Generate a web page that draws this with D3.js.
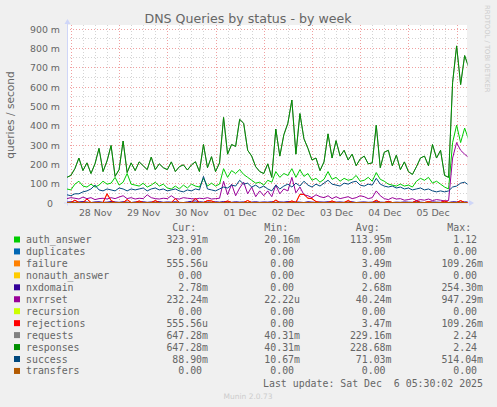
<!DOCTYPE html>
<html lang="en">
<head>
  <meta charset="UTF-8">
  <title>DNS Queries by status - by week</title>
  <style>
    body { margin: 0; background: #f0f0f0; }
    svg { display: block; font-family: 'DejaVu Sans', sans-serif; }
  </style>
</head>
<body>
  <svg id="mainsvg" width="497" height="407"></svg>
  <script src="https://cdn.jsdelivr.net/npm/d3@7/dist/d3.min.js"></script>
  <script>
    // samples every 2 hours, first one at 27 Nov 22:00 UTC
    const startTime = Date.UTC(2025, 10, 27, 22, 0)
    const stepHours = 2

    // values in milli-queries per second
    const auth_answer = [
      70, 65, 95, 110, 85, 80, 95, 80, 90, 110,
      95, 100, 130, 90, 105, 150, 95, 90, 85, 100,
      80, 90, 105, 85, 95, 75, 70, 85, 70, 90,
      75, 95, 85, 80, 125, 85, 100, 85, 95, 175,
      130, 165, 150, 170, 145, 130, 115, 100, 105, 90,
      115, 105, 160, 130, 150, 140, 175, 130, 170, 135,
      150, 115, 125, 105, 120, 160, 120, 130, 110, 125,
      115, 120, 140, 110, 115, 130, 110, 155, 120, 110,
      95, 90, 85, 95, 85, 90, 80, 110, 125, 115,
      130, 100, 110, 95, 80, 70, 310, 400, 310, 385,
      325
    ]
    const nxdomain = [
      2, 4, 1, 3, 5, 2, 0, 3, 4, 1, 2, 5, 3, 1, 4, 2, 0, 3, 2, 4, 1, 3, 2, 5, 1,
      3, 2, 4, 1, 0, 3, 6, 8, 4, 2, 3, 1, 4, 2, 5, 3, 1, 4, 2, 3, 0, 2, 4, 1, 3,
      2, 4, 1, 3, 2, 5, 1, 3, 2, 0, 4, 2, 1, 3, 2, 4, 1, 2, 3, 1, 2, 4, 0, 2, 3,
      1, 2, 4, 2, 1, 3, 0, 2, 1, 3, 2, 1, 4, 2, 0, 1, 3, 2, 1, 2, 0, 4, 3, 2, 3, 3
    ]
    const nxrrset = [
      20, 25, 22, 18, 28, 20, 25, 15, 20, 22, 18, 25, 20, 28, 35, 20, 25, 18, 22, 20, 40, 25, 20, 18, 22,
      20, 35, 20, 18, 25, 22, 20, 18, 22, 20, 25, 18, 20, 22, 110, 40, 95, 35, 75, 105, 45, 80, 30, 60, 35,
      60, 30, 90, 45, 70, 60, 130, 50, 80, 40, 35, 25, 40, 30, 25, 35, 20, 30, 20, 25, 30, 20, 25, 35, 30,
      20, 25, 60, 35, 20, 15, 25, 18, 20, 12, 15, 20, 10, 15, 12, 18, 10, 15, 12, 8, 10, 230, 310, 270, 250, 232
    ]
    const rejections = [
      0, 0, 12, 0, 0, 18, 0, 0, 0, 0,
      45, 10, 0, 0, 0, 15, 0, 0, 8, 0,
      0, 0, 10, 0, 0, 0, 0, 20, 0, 0,
      0, 0, 22, 0, 0, 10, 8, 0, 0, 0,
      8, 0, 0, 0, 0, 10, 0, 0, 0, 0,
      0, 0, 12, 0, 0, 0, 8, 0, 42, 42,
      22, 20, 5, 0, 0, 0, 8, 0, 0, 0,
      10, 0, 0, 0, 0, 0, 0, 12, 0, 0,
      6, 0, 0, 0, 0, 0, 0, 10, 0, 0,
      5, 0, 0, 0, 8, 0, 0, 0, 10, 0,
      0
    ]
    const failure = rejections.slice() // same as rejections in the picture
    const responses = [
      130, 140, 175, 230, 165, 205, 150, 200, 280, 160,
      215, 295, 135, 170, 318, 155, 205, 165, 210, 190,
      170, 235, 170, 200, 180, 170, 210, 160, 185, 195,
      168, 194, 211, 160, 300, 180, 237, 160, 205, 440,
      250, 300, 290, 430, 410, 270, 240, 185, 160, 150,
      200, 130, 380, 240, 350, 410, 530, 250, 460, 330,
      280, 220, 230, 165, 210, 355, 230, 320, 240, 270,
      220, 250, 190, 225, 240, 200, 205, 400, 180, 260,
      270, 190, 245, 170, 210, 160, 145, 185, 230, 240,
      190, 300, 230, 270, 140, 130, 620, 810, 610, 760,
      700
    ]
    const requests = responses.slice() // hidden under responses
    const success = [
      40, 35, 45, 45, 55, 60, 70, 90, 65, 60, 70, 65, 60, 75, 70, 60, 70, 65, 70, 75, 60, 70, 75, 65, 70,
      60, 65, 70, 60, 55, 65, 60, 70, 65, 135, 70, 65, 60, 70, 80, 75, 90, 85, 115, 95, 100, 80, 90, 75, 85,
      70, 60, 90, 70, 85, 95, 80, 100, 85, 110, 90, 80, 95, 85, 100, 115, 95, 90, 85, 100, 95, 105, 110, 90, 85,
      95, 90, 125, 95, 85, 80, 85, 75, 80, 70, 75, 65, 70, 75, 65, 70, 60, 55, 60, 55, 60, 80, 85, 100, 105, 90
    ]
    const flatZero = [0, 0] // series that stay at 0 the whole week

    const seriesNames = ['auth_answer', 'duplicates', 'failure', 'nonauth_answer', 'nxdomain', 'nxrrset',
      'recursion', 'rejections', 'requests', 'responses', 'success', 'transfers']
    const seriesColors = ['#00cc00', '#0066b3', '#ff8000', '#ffcc00', '#330099', '#990099',
      '#ccff00', '#ff0000', '#808080', '#008f00', '#00487d', '#b35a00']
    const seriesValues = [auth_answer, flatZero, failure, flatZero, nxdomain, nxrrset,
      flatZero, rejections, requests, responses, success, flatZero]
    const legendCur = ['323.91m', '0.00', '555.56u', '0.00', '2.78m', '232.24m', '0.00', '555.56u', '647.28m', '647.28m', '88.90m', '0.00']
    const legendMin = ['20.16m', '0.00', '0.00', '0.00', '0.00', '22.22u', '0.00', '0.00', '40.31m', '40.31m', '10.67m', '0.00']
    const legendAvg = ['113.95m', '0.00', '3.49m', '0.00', '2.68m', '40.24m', '0.00', '3.47m', '229.16m', '228.68m', '71.03m', '0.00']
    const legendMax = ['1.12', '0.00', '109.26m', '0.00', '254.30m', '947.29m', '0.00', '109.26m', '2.24', '2.24', '514.04m', '0.00']

    const yTicks = [0, 100, 200, 300, 400, 500, 600, 700, 800, 900]
    const dayLabels = ['28 Nov', '29 Nov', '30 Nov', '01 Dec', '02 Dec', '03 Dec', '04 Dec', '05 Dec']

    const svg = d3.select('#mainsvg')
    const plotLeft = 67, plotRight = 467, plotTop = 28.5, plotBottom = 202.5
    const fontColor = '#666'

    const xScale = d3.scaleUtc()
      .domain([Date.UTC(2025, 10, 27, 22, 4), Date.UTC(2025, 11, 6, 5, 10)])
      .range([plotLeft, plotRight])
    const yScale = d3.scaleLinear()
      .domain([0, 900])
      .range([plotBottom, plotTop])

    // canvas
    svg.append('rect').attr('x', plotLeft).attr('y', 25)
      .attr('width', plotRight - plotLeft).attr('height', plotBottom - 25 + 0.5)
      .attr('fill', '#fff')

    // grid: 50 m minor, 100 m major, 6 h minor, midnight major
    const grid = svg.append('g')
    d3.range(50, 901, 50).forEach(v => {
      const y = Math.round(yScale(v)) + 0.5
      grid.append('line').attr('x1', plotLeft).attr('x2', plotRight).attr('y1', y).attr('y2', y)
        .attr('stroke', v % 100 === 0 ? '#f0a0a0' : '#d4d4d4')
        .attr('stroke-dasharray', '1,2')
    })
    d3.utcHour.every(6).range(xScale.domain()[0], xScale.domain()[1]).forEach(t => {
      const x = Math.round(xScale(t)) + 0.5
      grid.append('line').attr('x1', x).attr('x2', x).attr('y1', 25).attr('y2', plotBottom)
        .attr('stroke', t.getUTCHours() === 0 ? '#f0a0a0' : '#d4d4d4')
        .attr('stroke-dasharray', '1,2')
    })

    // axes
    const yAxis = d3.axisLeft(yScale).tickValues(yTicks).tickSize(0).tickPadding(7)
      .tickFormat(d => d === 0 ? '0' : d + ' m')
    const yg = svg.append('g').attr('transform', `translate(${plotLeft}, 0)`).call(yAxis)
    yg.select('.domain').remove()
    yg.selectAll('text').attr('font-size', '9.4px').attr('fill', fontColor)
      .attr('font-family', 'DejaVu Sans').attr('dy', '0.38em')
    yg.selectAll('.tick').filter(d => d === 0).select('text').attr('x', -14)

    const noons = dayLabels.map((d, i) => new Date(Date.UTC(2025, 10, 28 + i, 12)))
    const xAxis = d3.axisBottom(xScale).tickValues(noons).tickSize(0).tickPadding(6)
      .tickFormat((d, i) => dayLabels[i])
    const xg = svg.append('g').attr('transform', `translate(0, ${plotBottom + 0.5})`).call(xAxis)
    xg.select('.domain').remove()
    xg.selectAll('text').attr('font-size', '9.4px').attr('fill', fontColor).attr('font-family', 'DejaVu Sans')

    const axisColor = '#cfd6f8'
    svg.append('line').attr('x1', plotLeft + 0.5).attr('x2', plotLeft + 0.5).attr('y1', plotBottom + 3).attr('y2', 23)
      .attr('stroke', axisColor)
    svg.append('path').attr('d', `M${plotLeft - 2.5},24 L${plotLeft + 3.5},24 L${plotLeft + 0.5},19 Z`).attr('fill', axisColor)
    svg.append('line').attr('x1', plotLeft - 3).attr('x2', plotRight + 3).attr('y1', plotBottom + 0.5).attr('y2', plotBottom + 0.5)
      .attr('stroke', axisColor)
    svg.append('path').attr('d', `M${plotRight + 2},${plotBottom - 2.5} L${plotRight + 2},${plotBottom + 3.5} L${plotRight + 7},${plotBottom + 0.5} Z`)
      .attr('fill', axisColor)

    // data lines
    svg.append('clipPath').attr('id', 'plotclip').append('rect')
      .attr('x', plotLeft).attr('y', 20).attr('width', plotRight - plotLeft + 0.5).attr('height', plotBottom - 20 + 1)
    const lines = svg.append('g').attr('clip-path', 'url(#plotclip)')
    const line = d3.line().x(d => xScale(d.t)).y(d => yScale(d.v))
    seriesValues.forEach((vals, k) => {
      let pts
      if (vals === flatZero) {
        pts = xScale.domain().map((t, i) => ({ t: t, v: vals[i] }))
      } else {
        pts = vals.map((v, i) => ({ t: new Date(startTime + i * stepHours * 3600e3), v: v }))
      }
      lines.append('path').datum(pts)
        .attr('d', line)
        .attr('fill', 'none')
        .attr('stroke', seriesColors[k])
        .attr('stroke-width', 1)
        .attr('stroke-linejoin', 'round')
    })

    // title, vertical label, watermark
    svg.append('text').text('DNS Queries by status - by week')
      .attr('x', 248).attr('y', 23).attr('text-anchor', 'middle')
      .attr('font-size', '12.6px').attr('fill', fontColor)
    svg.append('text').text('queries / second')
      .attr('transform', 'translate(14, 115) rotate(-90)').attr('text-anchor', 'middle')
      .attr('font-size', '10.6px').attr('fill', fontColor)
    svg.append('text').text('RRDTOOL / TOBI OETIKER')
      .attr('transform', 'translate(485, 5) rotate(90)')
      .attr('font-size', '6.8px').attr('fill', '#cccccc')

    // legend
    const mono = "'DejaVu Sans Mono', monospace"
    const charW = 5.96
    const legend = svg.append('g').attr('font-family', mono).attr('font-size', '9.9px').attr('fill', fontColor)
    const colRight = [208, 300, 391.5, 483]
    const headers = ['Cur:', 'Min:', 'Avg:', 'Max:']
    headers.forEach((h, c) => {
      legend.append('text').text(h).attr('x', colRight[c] - 2 * charW).attr('y', 231).attr('text-anchor', 'end')
    })
    const cols = [legendCur, legendMin, legendAvg, legendMax]
    seriesNames.forEach((name, k) => {
      const y = 243 + k * 11.95
      legend.append('rect').attr('x', 14).attr('y', y - 6.5).attr('width', 6).attr('height', 6)
        .attr('fill', seriesColors[k])
      legend.append('text').text(name).attr('x', 26).attr('y', y)
      cols.forEach((col, c) => {
        const s = col[k]
        const hasUnit = /[a-z]$/i.test(s)
        legend.append('text').text(s)
          .attr('x', colRight[c] - (hasUnit ? 0 : charW)).attr('y', y).attr('text-anchor', 'end')
      })
    })
    legend.append('text').text('Last update: Sat Dec  6 05:30:02 2025')
      .attr('xml:space', 'preserve').style('white-space', 'pre')
      .attr('x', 483).attr('y', 386.5).attr('text-anchor', 'end')

    svg.append('text').text('Munin 2.0.73')
      .attr('x', 248).attr('y', 399).attr('text-anchor', 'middle')
      .attr('font-size', '7.5px').attr('fill', '#cccccc')
  </script>
</body>
</html>
